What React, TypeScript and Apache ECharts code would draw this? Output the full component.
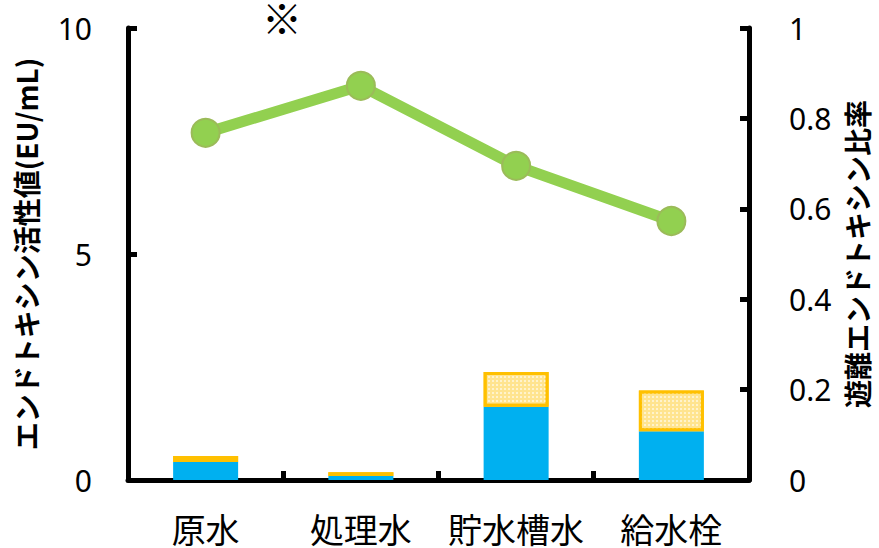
import React, { useEffect, useRef } from "react";
import * as echarts from "echarts";

// Sampling points
const categories = ["原水", "処理水", "貯水槽水", "給水栓"];
// Free endotoxin (EU/mL), bottom segment
const freeValues = [0.4, 0.09, 1.62, 1.08];
// Bound endotoxin (EU/mL), stacked on top
const boundValues = [0.13, 0.08, 0.77, 0.9];
// Free endotoxin ratio (right axis)
const ratioValues = [0.768, 0.872, 0.695, 0.573];

const leftTicks = { min: 0, max: 10, interval: 5 };
const rightTicks = { min: 0, max: 1, interval: 0.2 };

const JP = "'Noto Sans CJK JP', 'Noto Sans', sans-serif";
const NUM = "'Noto Sans', 'DejaVu Sans', sans-serif";

export default function App() {
  const ref = useRef<HTMLDivElement>(null);

  useEffect(() => {
    if (!ref.current) return;
    const chart = echarts.init(ref.current, undefined, { renderer: "svg" });
    const axisLine = { show: true, lineStyle: { color: "#000", width: 5 } };
    const axisTick = { show: true, inside: true, length: 9, lineStyle: { color: "#000", width: 5 } };

    chart.setOption({
      animation: false,
      backgroundColor: "#fff",
      grid: { left: 128, right: 127, top: 28, bottom: 68, containLabel: false },
      xAxis: {
        type: "category",
        data: categories,
        boundaryGap: true,
        axisLine,
        axisTick: { ...axisTick, alignWithLabel: false, interval: 0 },
        axisLabel: {
          color: "#000",
          fontSize: 34,
          lineHeight: 36,
          fontFamily: JP,
          margin: 30,
          interval: 0,
        },
        splitLine: { show: false },
      },
      yAxis: [
        {
          type: "value",
          ...leftTicks,
          position: "left",
          axisLine,
          axisTick,
          splitLine: { show: false },
          axisLabel: { color: "#000", fontSize: 30, fontFamily: NUM, margin: 36 },
          name: "エンドトキシン活性値(EU/mL)",
          nameLocation: "middle",
          nameRotate: 90,
          nameGap: 88,
          nameTextStyle: { color: "#000", fontSize: 28, fontWeight: "bold", fontFamily: JP },
        },
        {
          type: "value",
          ...rightTicks,
          position: "right",
          axisLine,
          axisTick,
          splitLine: { show: false },
          axisLabel: {
            color: "#000",
            fontSize: 30,
            fontFamily: NUM,
            margin: 40,
            formatter: (v: number) => String(Math.round(v * 10) / 10),
          },
          name: "遊離エンドトキシン比率",
          nameLocation: "middle",
          nameRotate: 90,
          nameGap: 94,
          nameTextStyle: { color: "#000", fontSize: 28, fontWeight: "bold", fontFamily: JP },
        },
      ],
      series: [
        {
          name: "遊離",
          type: "bar",
          stack: "total",
          barWidth: 65,
          data: freeValues,
          itemStyle: { color: "#00B0F0" },
        },
        {
          name: "結合",
          type: "bar",
          stack: "total",
          barWidth: 65,
          data: boundValues,
          itemStyle: {
            color: "#FFE48F",
            borderColor: "#FFC000",
            borderWidth: 3,
            decal: {
              symbol: "rect",
              symbolSize: 1,
              color: "rgba(255,255,255,0.55)",
              dashArrayX: [2, 2],
              dashArrayY: [2, 2],
              rotation: 0,
            },
          },
        },
        {
          name: "比率",
          type: "line",
          yAxisIndex: 1,
          data: ratioValues,
          symbol: "circle",
          symbolSize: 28,
          lineStyle: { color: "#92D050", width: 11 },
          itemStyle: { color: "#92D050", borderColor: "#9BBB59", borderWidth: 2 },
          z: 5,
        },
      ],
      graphic: [
        {
          type: "text",
          left: 262,
          top: -3,
          style: { text: "※", fontSize: 40, fontWeight: "bold", fill: "#000", fontFamily: JP },
        },
      ],
    });

    return () => chart.dispose();
  }, []);

  return (
    <div
      ref={ref}
      style={{ position: "fixed", left: 0, top: 0, width: 879, height: 548 }}
    />
  );
}
